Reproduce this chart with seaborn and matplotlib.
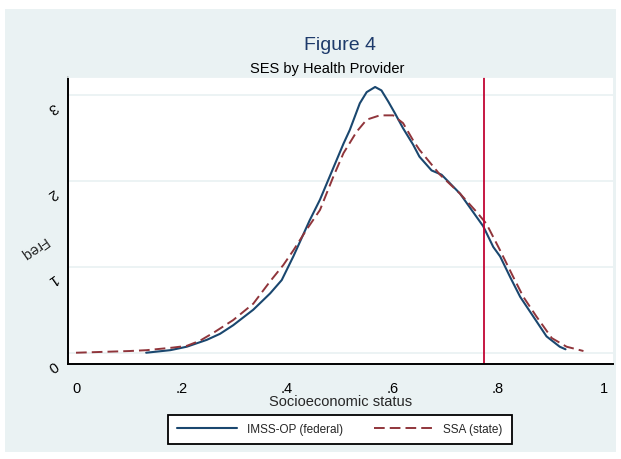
import matplotlib
matplotlib.use("Agg")
import matplotlib.pyplot as plt
import matplotlib.transforms as mtransforms
from matplotlib.patches import Rectangle
import seaborn as sns

# values
imss_x = [0.133, 0.179, 0.21, 0.248, 0.273, 0.298, 0.336, 0.368, 0.39, 0.412,
          0.443, 0.4625, 0.481, 0.507, 0.519, 0.538, 0.551, 0.567, 0.579, 0.592,
          0.605, 0.620, 0.639, 0.651, 0.674, 0.693, 0.728, 0.75, 0.772, 0.791,
          0.804, 0.823, 0.842, 0.867, 0.892, 0.917, 0.928]
imss_y = [0.0, 0.03, 0.07, 0.15, 0.22, 0.32, 0.50, 0.69, 0.845, 1.12,
          1.54, 1.78, 2.05, 2.43, 2.59, 2.90, 3.03, 3.09, 3.05, 2.92,
          2.78, 2.61, 2.42, 2.28, 2.12, 2.07, 1.85, 1.66, 1.47, 1.23,
          1.12, 0.88, 0.65, 0.42, 0.19, 0.07, 0.04]

ssa_x = [0.0, 0.102, 0.134, 0.184, 0.21, 0.235, 0.26, 0.298, 0.336, 0.368,
         0.393, 0.412, 0.437, 0.4625, 0.488, 0.507, 0.532, 0.551, 0.576, 0.601,
         0.620, 0.639, 0.651, 0.69, 0.728, 0.759, 0.778, 0.804, 0.829, 0.848,
         0.873, 0.902, 0.93, 0.962]
ssa_y = [0.0, 0.02, 0.03, 0.06, 0.08, 0.14, 0.23, 0.38, 0.57, 0.83,
         1.02, 1.19, 1.43, 1.66, 2.05, 2.32, 2.57, 2.71, 2.76, 2.76,
         2.67, 2.47, 2.36, 2.07, 1.85, 1.64, 1.50, 1.19, 0.88, 0.65,
         0.42, 0.17, 0.07, 0.02]

cutoff = 0.773
x_ticks = [0, 0.2, 0.4, 0.6, 0.8, 1]
x_tick_labels = ["0", ".2", ".4", ".6", ".8", "1"]
y_ticks = [0, 1, 2, 3]
y_tick_labels = ["0", "1", "2", "3"]

navy = "#1A476F"
maroon = "#90353B"
cranberry = "#C10534"
bg = "#EAF2F3"

sns.set_style("white")
plt.rcParams["font.family"] = ["Liberation Sans", "DejaVu Sans"]

fig = plt.figure(figsize=(6.21, 4.59), dpi=100)
fig.patch.set_facecolor("white")
fig.patches.append(Rectangle((5 / 621, 7 / 459), 611 / 621, 443 / 459,
                             transform=fig.transFigure, facecolor=bg,
                             edgecolor="none", zorder=-10))

ax = fig.add_axes([68 / 621, 1 - 364 / 459, 545 / 621, 287 / 459])
ax.set_facecolor("white")

for yv in y_ticks:
    ax.axhline(yv, color=bg, lw=1.3, zorder=0)

sns.lineplot(x=imss_x, y=imss_y, ax=ax, color=navy, lw=1.5,
             estimator=None, sort=False, label="IMSS-OP (federal)")
sns.lineplot(x=ssa_x, y=ssa_y, ax=ax, color=maroon, lw=1.4,
             estimator=None, sort=False, label="SSA (state)",
             linestyle=(0, (5.5, 2.6)))
ax.axvline(cutoff, color=cranberry, lw=1.3)

ax.set_xlim(-0.0152, 1.018)
ax.set_ylim(-0.131, 3.206)
ax.set_xticks(x_ticks)
ax.set_xticklabels(x_tick_labels)
ax.set_yticks(y_ticks)
ax.set_yticklabels(y_tick_labels)

for side in ["left", "bottom"]:
    ax.spines[side].set_color("black")
    ax.spines[side].set_linewidth(1.4)
ax.spines["top"].set_color(bg)
ax.spines["top"].set_linewidth(1.3)
ax.spines["right"].set_visible(False)

ax.tick_params(axis="both", direction="out", length=5, width=1.3,
               color="black", labelsize=10.5, labelcolor="black")
ax.tick_params(axis="x", pad=8)
ax.tick_params(axis="y", pad=0)

offset = mtransforms.ScaledTranslation(-0.09, -0.13, fig.dpi_scale_trans)
for lab in ax.get_yticklabels():
    lab.set_rotation(215)
    lab.set_ha("center")
    lab.set_va("center")
    lab.set_transform(lab.get_transform() + offset)

ax.set_xlabel("Socioeconomic status", fontsize=10.5, labelpad=-1)
ax.set_ylabel("Freq", fontsize=10.5, rotation=215, ha="center", va="center")
ax.yaxis.set_label_coords(-0.064, 0.404)

fig.text(340 / 621, 1 - 50 / 459, "Figure 4", ha="center", va="baseline",
         fontsize=14, color="#1e3b6b")
fig.text(327 / 621, 1 - 73.3 / 459, "SES by Health Provider", ha="center",
         va="baseline", fontsize=10.5, color="black")

handles, labels = ax.get_legend_handles_labels()
ax.get_legend().remove()
leg = fig.legend(handles, labels, loc="center",
                 bbox_to_anchor=(340 / 621, 1 - 429.5 / 459), ncol=2,
                 fontsize=8.5, handlelength=5.1, handletextpad=0.8,
                 columnspacing=2.6, borderpad=0.75, fancybox=False,
                 framealpha=1, edgecolor="black")
leg.get_frame().set_linewidth(1.3)

fig.savefig("out.png", dpi=100, facecolor=fig.get_facecolor())
